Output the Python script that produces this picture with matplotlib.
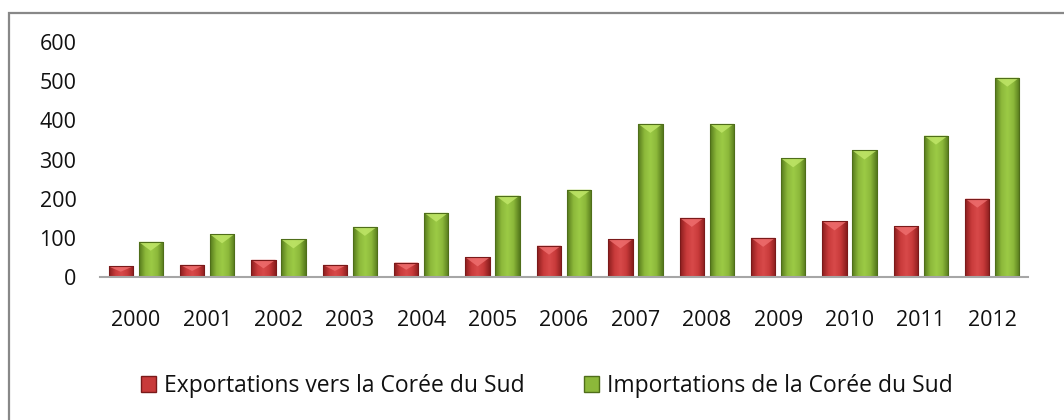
import numpy as np
import matplotlib
matplotlib.use("Agg")
import matplotlib.pyplot as plt
from matplotlib.patches import Rectangle, Polygon
from matplotlib.colors import LinearSegmentedColormap

years = ["2000", "2001", "2002", "2003", "2004", "2005", "2006",
         "2007", "2008", "2009", "2010", "2011", "2012"]
exports = [27, 31, 44, 31, 37, 50, 80, 96, 151, 100, 142, 129, 200]
imports = [90, 109, 96, 128, 164, 208, 223, 391, 391, 303, 323, 361, 509]
series_names = ["Exportations vers la Corée du Sud",
                "Importations de la Corée du Sud"]
yticks = [0, 100, 200, 300, 400, 500, 600]

plt.rcParams['font.family'] = ['Open Sans', 'DejaVu Sans']

W, H = 1064, 420
fig = plt.figure(figsize=(W / 100, H / 100), dpi=100)
ax = fig.add_axes([100 / W, (H - 277) / H, (1028 - 100) / W, (277 - 42) / H])

x = np.arange(len(years))
bw = 0.34
off = 0.21
red_cmap = LinearSegmentedColormap.from_list("r", ["#8a1e1e", "#c83a3a", "#d84a4a", "#c83a3a", "#8a1e1e"])
grn_cmap = LinearSegmentedColormap.from_list("g", ["#557a1c", "#8cb83a", "#9ccb46", "#8cb83a", "#557a1c"])

b1 = ax.bar(x - off, exports, bw, color="#c83a3a", edgecolor="#7a1a1a", linewidth=0.6,
            label=series_names[0], zorder=2)
b2 = ax.bar(x + off, imports, bw, color="#8cb83a", edgecolor="#4f6e1a", linewidth=0.6,
            label=series_names[1], zorder=2)

ax.set_xlim(-0.5, len(years) - 0.5)
ax.set_ylim(0, 600)

grad = np.linspace(0, 1, 64).reshape(1, -1)
px_to_data = 600 / (277 - 42)
for bars, cmap, light in ((b1, red_cmap, "#f07070"), (b2, grn_cmap, "#c2e86a")):
    for p in bars:
        x0, w, h = p.get_x(), p.get_width(), p.get_height()
        im = ax.imshow(grad, cmap=cmap, aspect="auto", extent=(x0, x0 + w, 0, h),
                       zorder=2.1, interpolation="bicubic")
        im.set_clip_path(p)
        bev = min(9 * px_to_data, h * 0.5)
        tri = Polygon([(x0, h), (x0 + w, h), (x0 + w / 2, h - bev)], closed=True,
                      facecolor=light, edgecolor="none", alpha=0.8, zorder=2.2)
        ax.add_patch(tri)
        ax.add_patch(Rectangle((x0, 0), w, h, facecolor="none",
                               edgecolor=p.get_edgecolor(), linewidth=0.8, zorder=2.3))

ax.set_xticks(x)
ax.set_xticklabels(years)
ax.set_yticks(yticks)
ax.tick_params(axis="both", length=0, labelsize=15.5, colors="#111111")
ax.tick_params(axis="y", pad=17)
ax.tick_params(axis="x", pad=24)
for s in ("left", "right", "top"):
    ax.spines[s].set_visible(False)
ax.spines["bottom"].set_color("#a6a6a6")
ax.spines["bottom"].set_linewidth(1.5)
ax.spines["bottom"].set_zorder(3)

# outer frame
frame = Rectangle((9 / W, -0.1), 1.2, (H - 13) / H + 0.1, transform=fig.transFigure,
                  facecolor="none", edgecolor="#888888", linewidth=1.6, clip_on=False)
fig.add_artist(frame)

h1 = Rectangle((0, 0), 1, 1, facecolor="#c83a3a", edgecolor="#7a1a1a")
h2 = Rectangle((0, 0), 1, 1, facecolor="#8cb83a", edgecolor="#4f6e1a")
leg = fig.legend([h1, h2], series_names, loc="center", bbox_to_anchor=(547 / W, (H - 386) / H),
                 ncol=2, frameon=False, fontsize=16.5, handlelength=0.65, handleheight=0.65,
                 handletextpad=0.35, columnspacing=2.6)
for t in leg.get_texts():
    t.set_color("#111111")

fig.savefig("out.png", dpi=100)
